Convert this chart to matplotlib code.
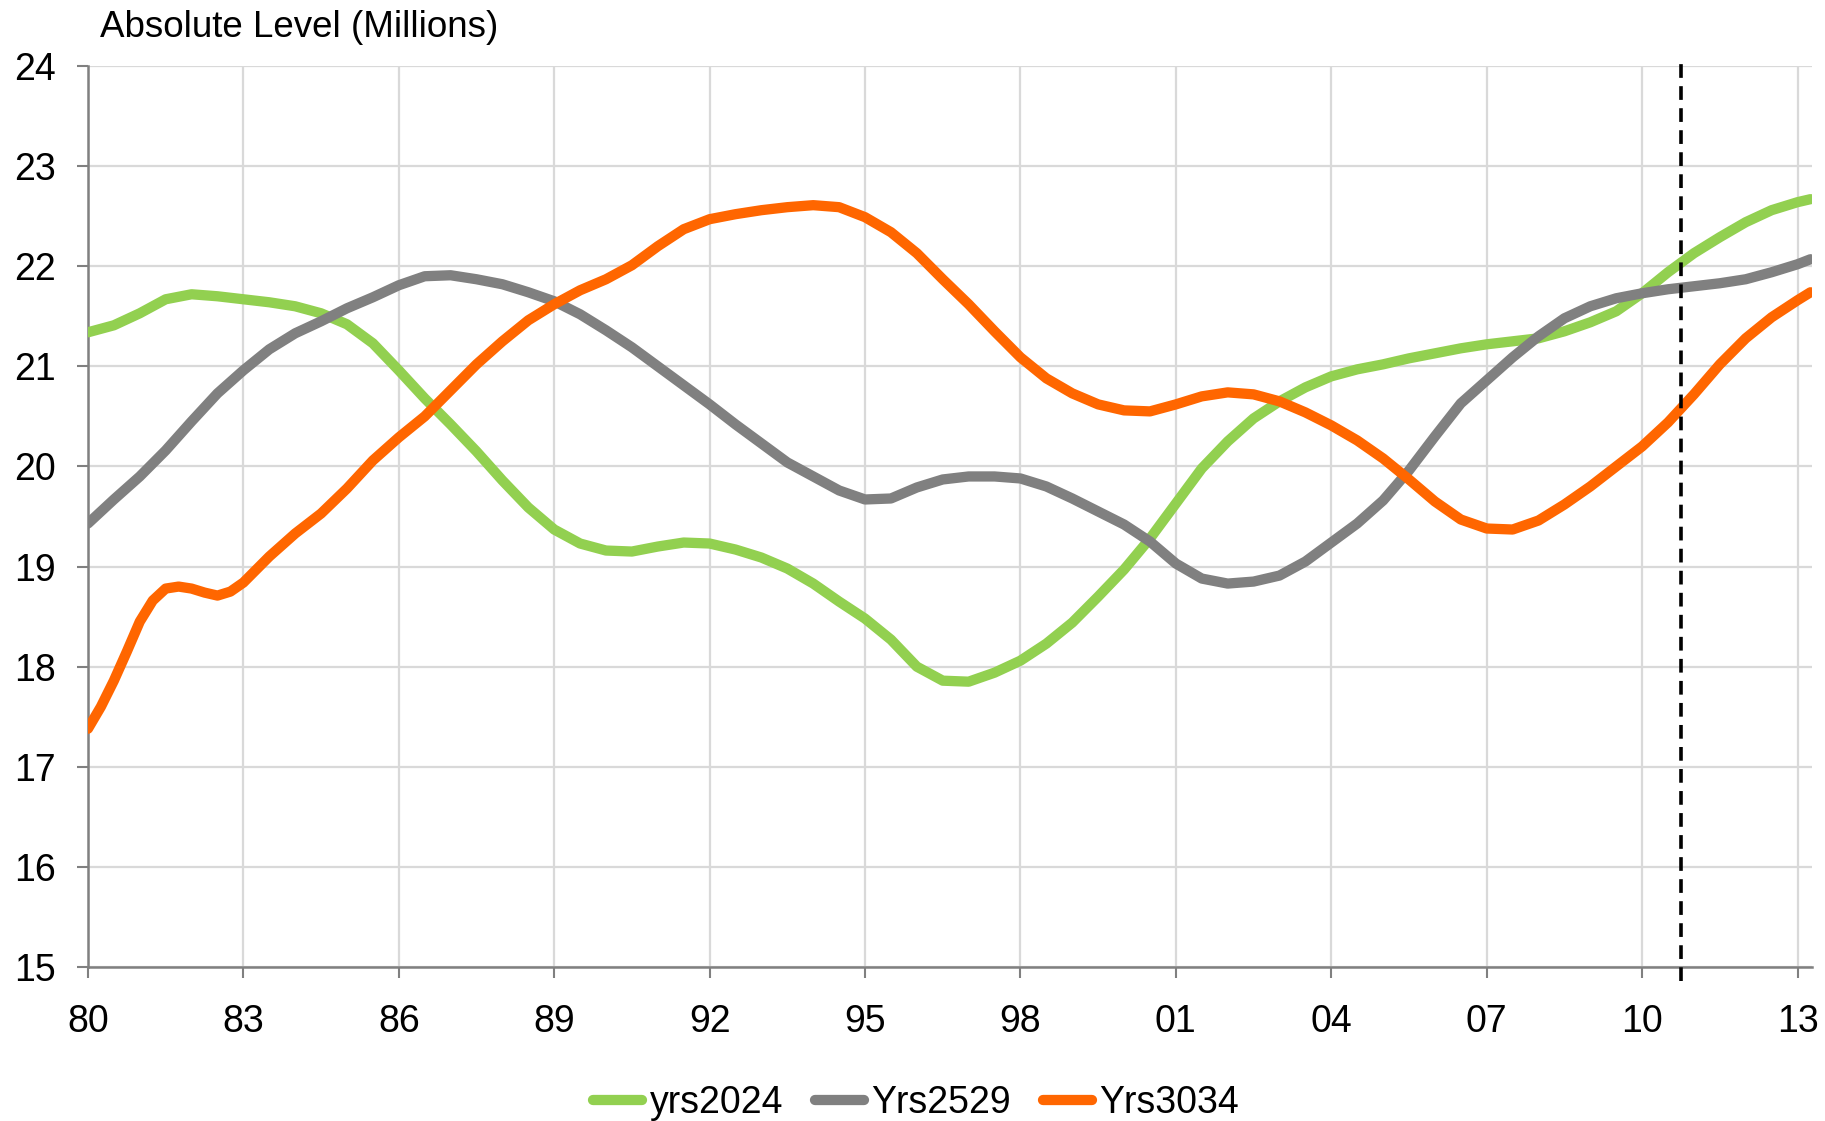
import matplotlib
matplotlib.use("Agg")
import matplotlib.pyplot as plt

plt.rcParams['font.family'] = ['Liberation Sans', 'DejaVu Sans']

# ---------------- data ----------------
title_text = "Absolute Level (Millions)"
series_names = ["yrs2024", "Yrs2529", "Yrs3034"]
series_colors = ["#92D050", "#808080", "#FF6600"]

x_half = [1980.0, 1980.5, 1981.0, 1981.5, 1982.0, 1982.5, 1983.0, 1983.5, 1984.0, 1984.5,
          1985.0, 1985.5, 1986.0, 1986.5, 1987.0, 1987.5, 1988.0, 1988.5, 1989.0, 1989.5,
          1990.0, 1990.5, 1991.0, 1991.5, 1992.0, 1992.5, 1993.0, 1993.5, 1994.0, 1994.5,
          1995.0, 1995.5, 1996.0, 1996.5, 1997.0, 1997.5, 1998.0, 1998.5, 1999.0, 1999.5,
          2000.0, 2000.5, 2001.0, 2001.5, 2002.0, 2002.5, 2003.0, 2003.5, 2004.0, 2004.5,
          2005.0, 2005.5, 2006.0, 2006.5, 2007.0, 2007.5, 2008.0, 2008.5, 2009.0, 2009.5,
          2010.0, 2010.5, 2011.0, 2011.5, 2012.0, 2012.5, 2013.0, 2013.25]

yrs2024 = [21.34, 21.41, 21.53, 21.67, 21.72, 21.70, 21.67, 21.64, 21.60, 21.53,
           21.42, 21.23, 20.96, 20.68, 20.42, 20.15, 19.86, 19.59, 19.37, 19.23,
           19.16, 19.15, 19.20, 19.24, 19.23, 19.17, 19.09, 18.98, 18.83, 18.65,
           18.48, 18.27, 18.00, 17.86, 17.85, 17.94, 18.06, 18.23, 18.44, 18.70,
           18.97, 19.28, 19.63, 19.98, 20.25, 20.48, 20.65, 20.79, 20.90, 20.97,
           21.02, 21.08, 21.13, 21.18, 21.22, 21.25, 21.28, 21.35, 21.44, 21.55,
           21.73, 21.94, 22.13, 22.29, 22.44, 22.56, 22.64, 22.67]

yrs2529 = [19.43, 19.67, 19.90, 20.16, 20.45, 20.73, 20.96, 21.17, 21.33, 21.45,
           21.58, 21.69, 21.81, 21.90, 21.91, 21.87, 21.82, 21.74, 21.65, 21.52,
           21.36, 21.19, 21.00, 20.81, 20.62, 20.42, 20.23, 20.04, 19.90, 19.76,
           19.67, 19.68, 19.79, 19.87, 19.90, 19.90, 19.88, 19.80, 19.68, 19.55,
           19.42, 19.25, 19.03, 18.88, 18.83, 18.85, 18.91, 19.05, 19.24, 19.43,
           19.66, 19.96, 20.30, 20.63, 20.86, 21.09, 21.30, 21.48, 21.60, 21.68,
           21.73, 21.77, 21.80, 21.83, 21.87, 21.94, 22.02, 22.07]

x_3034 = [1980.0, 1980.25, 1980.5, 1980.75, 1981.0, 1981.25, 1981.5, 1981.75, 1982.0,
          1982.25, 1982.5, 1982.75, 1983.0, 1983.5, 1984.0, 1984.5,
          1985.0, 1985.5, 1986.0, 1986.5, 1987.0, 1987.5, 1988.0, 1988.5, 1989.0, 1989.5,
          1990.0, 1990.5, 1991.0, 1991.5, 1992.0, 1992.5, 1993.0, 1993.5, 1994.0, 1994.5,
          1995.0, 1995.5, 1996.0, 1996.5, 1997.0, 1997.5, 1998.0, 1998.5, 1999.0, 1999.5,
          2000.0, 2000.5, 2001.0, 2001.5, 2002.0, 2002.5, 2003.0, 2003.5, 2004.0, 2004.5,
          2005.0, 2005.5, 2006.0, 2006.5, 2007.0, 2007.5, 2008.0, 2008.5, 2009.0, 2009.5,
          2010.0, 2010.5, 2011.0, 2011.5, 2012.0, 2012.5, 2013.0, 2013.25]

yrs3034 = [17.38, 17.60, 17.86, 18.15, 18.45, 18.66, 18.78, 18.80, 18.78,
           18.74, 18.71, 18.75, 18.84, 19.10, 19.33, 19.53,
           19.78, 20.06, 20.29, 20.50, 20.76, 21.02, 21.25, 21.46, 21.62, 21.76,
           21.87, 22.01, 22.20, 22.37, 22.47, 22.52, 22.56, 22.59, 22.61, 22.59,
           22.49, 22.34, 22.13, 21.87, 21.62, 21.35, 21.09, 20.88, 20.73, 20.62,
           20.56, 20.55, 20.62, 20.70, 20.74, 20.72, 20.65, 20.54, 20.41, 20.26,
           20.08, 19.87, 19.65, 19.47, 19.38, 19.37, 19.46, 19.62, 19.80, 20.00,
           20.20, 20.44, 20.72, 21.02, 21.28, 21.49, 21.66, 21.74]

x_ticks = [1980, 1983, 1986, 1989, 1992, 1995, 1998, 2001, 2004, 2007, 2010, 2013]
x_tick_labels = ["80", "83", "86", "89", "92", "95", "98", "01", "04", "07", "10", "13"]
y_ticks = [15, 16, 17, 18, 19, 20, 21, 22, 23, 24]
forecast_start = 2010.75

# ---------------- figure ----------------
fig = plt.figure(figsize=(18.25, 11.21), dpi=100)
ax = fig.add_axes([0.0482, 0.1374, 0.9447, 0.8037])

xs = [x_half, x_half, x_3034]
ys = [yrs2024, yrs2529, yrs3034]
for x, y, name, col in zip(xs, ys, series_names, series_colors):
    ax.plot(x, y, color=col, lw=7.4, label=name, solid_capstyle='round',
            solid_joinstyle='round', zorder=3)

ax.axvline(forecast_start, ymin=-0.0155, ymax=1.01, color='black', lw=2.6,
           linestyle=(0, (3.8, 2.3)), clip_on=False, zorder=4)

ax.set_xlim(1980, 2013.28)
ax.set_ylim(15, 24)
ax.set_xticks(x_ticks)
ax.set_xticklabels(x_tick_labels)
ax.set_yticks(y_ticks)

ax.grid(True, color='#D9D9D9', lw=1.6, zorder=0)
ax.set_axisbelow(True)
for s in ['top', 'right']:
    ax.spines[s].set_visible(False)
for s in ['left', 'bottom']:
    ax.spines[s].set_color('#808080')
    ax.spines[s].set_linewidth(1.8)

ax.tick_params(axis='both', colors='#808080', labelcolor='black', labelsize=27,
               length=8, width=1.5, direction='out')
ax.tick_params(axis='x', pad=19)
ax.tick_params(axis='y', pad=15)

fig.text(0.0548, 0.967, title_text, fontsize=26.5, va='baseline', ha='left')

leg = fig.legend(loc='lower center', bbox_to_anchor=(0.502, -0.02), ncol=3,
                 frameon=False, fontsize=27, handlelength=1.3, handletextpad=0.2,
                 columnspacing=0.85, borderpad=0.1)

fig.savefig("out.png", dpi=100)
